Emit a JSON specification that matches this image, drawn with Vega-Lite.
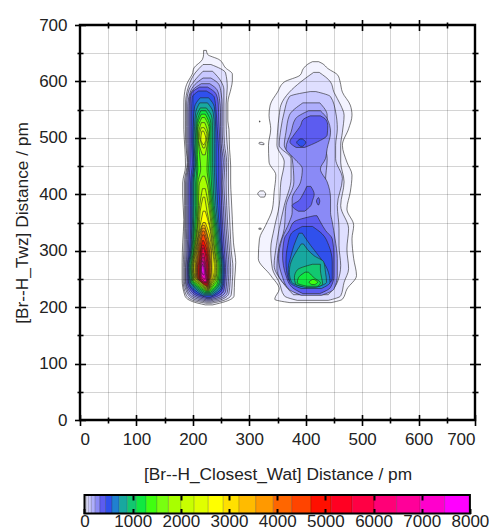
{"$schema":"https://vega.github.io/schema/vega-lite/v6.json","background":"white","padding":{"left":12,"top":14,"right":0,"bottom":6},"spacing":10,
"config":{"font":"Liberation Sans","axis":{"labelFont":"Liberation Sans","titleFont":"Liberation Sans","labelFontSize":17,"titleFontSize":17.3,"titleFontWeight":"normal","labelColor":"#222","titleColor":"#222","tickColor":"black"}},
"datasets":{"origin":[{"x":0,"y":0}],
"bar":[{"l":0,"a":0,"b":9},{"l":1,"a":9,"b":36},{"l":2,"a":36,"b":80},{"l":3,"a":80,"b":142},{"l":4,"a":142,"b":222},{"l":5,"a":222,"b":320},{"l":6,"a":320,"b":436},{"l":7,"a":436,"b":569},{"l":8,"a":569,"b":720},{"l":9,"a":720,"b":889},{"l":10,"a":889,"b":1076},{"l":11,"a":1076,"b":1280},{"l":12,"a":1280,"b":1502},{"l":13,"a":1502,"b":1742},{"l":14,"a":1742,"b":2000},{"l":15,"a":2000,"b":2276},{"l":16,"a":2276,"b":2569},{"l":17,"a":2569,"b":2880},{"l":18,"a":2880,"b":3209},{"l":19,"a":3209,"b":3556},{"l":20,"a":3556,"b":3920},{"l":21,"a":3920,"b":4302},{"l":22,"a":4302,"b":4702},{"l":23,"a":4702,"b":5120},{"l":24,"a":5120,"b":5556},{"l":25,"a":5556,"b":6009},{"l":26,"a":6009,"b":6480},{"l":27,"a":6480,"b":6969},{"l":28,"a":6969,"b":7476},{"l":29,"a":7476,"b":8000}],
"frame":[{"a":0,"b":8000}],
"contours":[
{"s":"I1","l":1,"y":492,"a":318,"b":322},{"s":"I1","l":1,"y":490,"a":317,"b":326},{"s":"I1","l":1,"y":488,"a":322,"b":326},
{"s":"I2","l":1,"y":406,"a":319,"b":325},{"s":"I2","l":1,"y":401,"a":315,"b":329},{"s":"I2","l":1,"y":395,"a":320,"b":327},
{"s":"I3","l":1,"y":306,"a":323,"b":330},{"s":"I3","l":1,"y":303,"a":321,"b":333},{"s":"I3","l":1,"y":300,"a":324,"b":331},
{"s":"I4","l":1,"y":530,"a":318,"b":319},{"s":"I4","l":1,"y":528,"a":318,"b":319},
{"s":"I5","l":1,"y":340,"a":317,"b":321},{"s":"I5","l":1,"y":338,"a":317,"b":321},
{"s":"R1","l":1,"y":635,"a":412,"b":423},{"s":"R1","l":1,"y":632,"a":406,"b":429},{"s":"R1","l":1,"y":623,"a":396,"b":439},{"s":"R1","l":1,"y":611,"a":390,"b":457},{"s":"R1","l":1,"y":599,"a":362,"b":461},{"s":"R1","l":1,"y":581,"a":350,"b":465},{"s":"R1","l":1,"y":558,"a":337,"b":479},{"s":"R1","l":1,"y":540,"a":335,"b":482},{"s":"R1","l":1,"y":516,"a":338,"b":476},{"s":"R1","l":1,"y":487,"a":334,"b":465},{"s":"R1","l":1,"y":457,"a":335,"b":473},{"s":"R1","l":1,"y":434,"a":347,"b":482},{"s":"R1","l":1,"y":404,"a":344,"b":479},{"s":"R1","l":1,"y":374,"a":341,"b":473},{"s":"R1","l":1,"y":345,"a":329,"b":485},{"s":"R1","l":1,"y":321,"a":318,"b":482},{"s":"R1","l":1,"y":286,"a":316,"b":485},{"s":"R1","l":1,"y":256,"a":338,"b":490},{"s":"R1","l":1,"y":232,"a":353,"b":473},{"s":"R1","l":1,"y":214,"a":345,"b":465},{"s":"R1","l":1,"y":208,"a":372,"b":445},
{"s":"R2","l":2,"y":616,"a":414,"b":424},{"s":"R2","l":2,"y":599,"a":391,"b":444},{"s":"R2","l":2,"y":581,"a":371,"b":450},{"s":"R2","l":2,"y":558,"a":356,"b":462},{"s":"R2","l":2,"y":540,"a":353,"b":468},{"s":"R2","l":2,"y":510,"a":350,"b":465},{"s":"R2","l":2,"y":487,"a":349,"b":462},{"s":"R2","l":2,"y":457,"a":362,"b":462},{"s":"R2","l":2,"y":422,"a":356,"b":468},{"s":"R2","l":2,"y":380,"a":353,"b":462},{"s":"R2","l":2,"y":339,"a":344,"b":476},{"s":"R2","l":2,"y":303,"a":338,"b":473},{"s":"R2","l":2,"y":268,"a":341,"b":476},{"s":"R2","l":2,"y":244,"a":353,"b":468},{"s":"R2","l":2,"y":220,"a":362,"b":462},{"s":"R2","l":2,"y":212,"a":385,"b":440},
{"s":"R3","l":3,"y":582,"a":408,"b":418},{"s":"R3","l":3,"y":573,"a":371,"b":444},{"s":"R3","l":3,"y":546,"a":362,"b":453},{"s":"R3","l":3,"y":516,"a":356,"b":456},{"s":"R3","l":3,"y":487,"a":353,"b":453},{"s":"R3","l":3,"y":463,"a":374,"b":453},{"s":"R3","l":3,"y":428,"a":374,"b":465},{"s":"R3","l":3,"y":380,"a":362,"b":456},{"s":"R3","l":3,"y":339,"a":353,"b":459},{"s":"R3","l":3,"y":309,"a":348,"b":459},{"s":"R3","l":3,"y":274,"a":344,"b":462},{"s":"R3","l":3,"y":244,"a":359,"b":456},{"s":"R3","l":3,"y":222,"a":378,"b":440},
{"s":"R4","l":4,"y":562,"a":395,"b":425},{"s":"R4","l":4,"y":540,"a":371,"b":438},{"s":"R4","l":4,"y":510,"a":365,"b":438},{"s":"R4","l":4,"y":487,"a":362,"b":435},{"s":"R4","l":4,"y":463,"a":376,"b":438},{"s":"R4","l":4,"y":422,"a":379,"b":435},{"s":"R4","l":4,"y":380,"a":365,"b":438},{"s":"R4","l":4,"y":339,"a":362,"b":441},{"s":"R4","l":4,"y":303,"a":352,"b":448},{"s":"R4","l":4,"y":268,"a":349,"b":451},{"s":"R4","l":4,"y":238,"a":365,"b":444},{"s":"R4","l":4,"y":223,"a":388,"b":425},
{"s":"R5","l":5,"y":548,"a":405,"b":426},{"s":"R5","l":5,"y":534,"a":382,"b":438},{"s":"R5","l":5,"y":510,"a":374,"b":444},{"s":"R5","l":5,"y":481,"a":365,"b":438},{"s":"R5","l":5,"y":463,"a":380,"b":435},{"s":"R5","l":5,"y":445,"a":394,"b":426},{"s":"R5","l":5,"y":422,"a":391,"b":438},{"s":"R5","l":5,"y":392,"a":376,"b":444},{"s":"R5","l":5,"y":368,"a":376,"b":444},{"s":"R5","l":5,"y":351,"a":371,"b":447},{"s":"R5","l":5,"y":321,"a":358,"b":452},{"s":"R5","l":5,"y":286,"a":352,"b":456},{"s":"R5","l":5,"y":256,"a":358,"b":456},{"s":"R5","l":5,"y":232,"a":370,"b":450},{"s":"R5","l":5,"y":221,"a":392,"b":428},
{"s":"R6a","l":6,"y":539,"a":408,"b":426},{"s":"R6a","l":6,"y":532,"a":395,"b":436},{"s":"R6a","l":6,"y":522,"a":391,"b":439},{"s":"R6a","l":6,"y":505,"a":379,"b":438},{"s":"R6a","l":6,"y":493,"a":372,"b":421},{"s":"R6a","l":6,"y":483,"a":383,"b":398},
{"s":"R7a","l":7,"y":498,"a":390,"b":394},{"s":"R7a","l":7,"y":492,"a":384,"b":400},{"s":"R7a","l":7,"y":485,"a":391,"b":395},
{"s":"R6b","l":6,"y":414,"a":402,"b":409},{"s":"R6b","l":6,"y":400,"a":395,"b":415},{"s":"R6b","l":6,"y":389,"a":388,"b":412},{"s":"R6b","l":6,"y":380,"a":376,"b":409},{"s":"R6b","l":6,"y":370,"a":387,"b":398},
{"s":"R6c","l":6,"y":394,"a":422,"b":423},{"s":"R6c","l":6,"y":388,"a":419,"b":425},{"s":"R6c","l":6,"y":381,"a":422,"b":423},
{"s":"R6d","l":6,"y":362,"a":415,"b":420},{"s":"R6d","l":6,"y":351,"a":379,"b":426},{"s":"R6d","l":6,"y":336,"a":371,"b":435},{"s":"R6d","l":6,"y":321,"a":362,"b":447},{"s":"R6d","l":6,"y":291,"a":359,"b":450},{"s":"R6d","l":6,"y":256,"a":365,"b":450},{"s":"R6d","l":6,"y":235,"a":376,"b":444},{"s":"R6d","l":6,"y":224,"a":395,"b":425},
{"s":"R7","l":7,"y":343,"a":394,"b":412},{"s":"R7","l":7,"y":330,"a":374,"b":429},{"s":"R7","l":7,"y":309,"a":368,"b":441},{"s":"R7","l":7,"y":280,"a":365,"b":447},{"s":"R7","l":7,"y":250,"a":369,"b":447},{"s":"R7","l":7,"y":235,"a":388,"b":430},
{"s":"R8","l":8,"y":331,"a":388,"b":394},{"s":"R8","l":8,"y":309,"a":379,"b":409},{"s":"R8","l":8,"y":291,"a":374,"b":423},{"s":"R8","l":8,"y":268,"a":369,"b":438},{"s":"R8","l":8,"y":244,"a":372,"b":443},{"s":"R8","l":8,"y":233,"a":392,"b":428},
{"s":"R9","l":9,"y":312,"a":392,"b":396},{"s":"R9","l":9,"y":291,"a":379,"b":415},{"s":"R9","l":9,"y":280,"a":374,"b":432},{"s":"R9","l":9,"y":262,"a":371,"b":435},{"s":"R9","l":9,"y":244,"a":375,"b":437},{"s":"R9","l":9,"y":237,"a":392,"b":424},
{"s":"R10","l":10,"y":276,"a":412,"b":426},{"s":"R10","l":10,"y":266,"a":385,"b":426},{"s":"R10","l":10,"y":253,"a":380,"b":428},{"s":"R10","l":10,"y":241,"a":382,"b":430},{"s":"R10","l":10,"y":235,"a":400,"b":418},
{"s":"R11","l":11,"y":262,"a":399,"b":405},{"s":"R11","l":11,"y":252,"a":387,"b":415},{"s":"R11","l":11,"y":243,"a":385,"b":426},{"s":"R11","l":11,"y":237,"a":402,"b":421},
{"s":"R12","l":12,"y":249,"a":412,"b":415},{"s":"R12","l":12,"y":244,"a":406,"b":421},{"s":"R12","l":12,"y":240,"a":411,"b":416},
{"s":"L1","l":1,"y":655,"a":219,"b":224},{"s":"L1","l":1,"y":648,"a":219,"b":226},{"s":"L1","l":1,"y":639,"a":217,"b":246},{"s":"L1","l":1,"y":624,"a":202,"b":258},{"s":"L1","l":1,"y":613,"a":199,"b":270},{"s":"L1","l":1,"y":601,"a":192,"b":270},{"s":"L1","l":1,"y":589,"a":187,"b":268},{"s":"L1","l":1,"y":562,"a":184,"b":262},{"s":"L1","l":1,"y":530,"a":184,"b":262},{"s":"L1","l":1,"y":515,"a":184,"b":264},{"s":"L1","l":1,"y":480,"a":186,"b":265},{"s":"L1","l":1,"y":450,"a":187,"b":267},{"s":"L1","l":1,"y":420,"a":182,"b":267},{"s":"L1","l":1,"y":397,"a":182,"b":268},{"s":"L1","l":1,"y":355,"a":184,"b":270},{"s":"L1","l":1,"y":314,"a":182,"b":272},{"s":"L1","l":1,"y":279,"a":181,"b":276},{"s":"L1","l":1,"y":249,"a":181,"b":274},{"s":"L1","l":1,"y":220,"a":186,"b":273},{"s":"L1","l":1,"y":210,"a":199,"b":258},{"s":"L1","l":1,"y":204,"a":222,"b":235},
{"s":"L2","l":2,"y":630,"a":218,"b":232},{"s":"L2","l":2,"y":615,"a":204,"b":258},{"s":"L2","l":2,"y":590,"a":192,"b":261},{"s":"L2","l":2,"y":560,"a":187,"b":259},{"s":"L2","l":2,"y":530,"a":187,"b":259},{"s":"L2","l":2,"y":500,"a":187,"b":260},{"s":"L2","l":2,"y":456,"a":190,"b":263},{"s":"L2","l":2,"y":420,"a":185,"b":263},{"s":"L2","l":2,"y":380,"a":185,"b":264},{"s":"L2","l":2,"y":340,"a":185,"b":266},{"s":"L2","l":2,"y":300,"a":184,"b":268},{"s":"L2","l":2,"y":270,"a":183,"b":271},{"s":"L2","l":2,"y":245,"a":183,"b":270},{"s":"L2","l":2,"y":222,"a":188,"b":268},{"s":"L2","l":2,"y":212,"a":200,"b":255},{"s":"L2","l":2,"y":207,"a":223,"b":233},
{"s":"L3","l":3,"y":618,"a":218,"b":235},{"s":"L3","l":3,"y":600,"a":202,"b":250},{"s":"L3","l":3,"y":585,"a":193,"b":255},{"s":"L3","l":3,"y":560,"a":189,"b":255},{"s":"L3","l":3,"y":520,"a":189,"b":255},{"s":"L3","l":3,"y":490,"a":189,"b":256},{"s":"L3","l":3,"y":456,"a":191,"b":260},{"s":"L3","l":3,"y":420,"a":187,"b":259},{"s":"L3","l":3,"y":380,"a":187,"b":260},{"s":"L3","l":3,"y":340,"a":187,"b":262},{"s":"L3","l":3,"y":300,"a":186,"b":265},{"s":"L3","l":3,"y":270,"a":185,"b":267},{"s":"L3","l":3,"y":245,"a":185,"b":266},{"s":"L3","l":3,"y":225,"a":190,"b":264},{"s":"L3","l":3,"y":214,"a":202,"b":252},{"s":"L3","l":3,"y":209,"a":224,"b":232},
{"s":"L4","l":4,"y":606,"a":218,"b":232},{"s":"L4","l":4,"y":595,"a":204,"b":246},{"s":"L4","l":4,"y":580,"a":195,"b":250},{"s":"L4","l":4,"y":555,"a":191,"b":252},{"s":"L4","l":4,"y":520,"a":191,"b":252},{"s":"L4","l":4,"y":490,"a":191,"b":253},{"s":"L4","l":4,"y":456,"a":192,"b":257},{"s":"L4","l":4,"y":420,"a":189,"b":255},{"s":"L4","l":4,"y":380,"a":189,"b":257},{"s":"L4","l":4,"y":340,"a":189,"b":259},{"s":"L4","l":4,"y":300,"a":188,"b":262},{"s":"L4","l":4,"y":270,"a":187,"b":264},{"s":"L4","l":4,"y":245,"a":187,"b":263},{"s":"L4","l":4,"y":226,"a":192,"b":261},{"s":"L4","l":4,"y":216,"a":204,"b":250},{"s":"L4","l":4,"y":211,"a":224,"b":231},
{"s":"L5","l":5,"y":596,"a":215,"b":230},{"s":"L5","l":5,"y":585,"a":200,"b":243},{"s":"L5","l":5,"y":570,"a":194,"b":247},{"s":"L5","l":5,"y":545,"a":193,"b":249},{"s":"L5","l":5,"y":520,"a":193,"b":249},{"s":"L5","l":5,"y":490,"a":193,"b":250},{"s":"L5","l":5,"y":456,"a":193,"b":254},{"s":"L5","l":5,"y":420,"a":191,"b":252},{"s":"L5","l":5,"y":380,"a":191,"b":254},{"s":"L5","l":5,"y":340,"a":191,"b":256},{"s":"L5","l":5,"y":300,"a":190,"b":259},{"s":"L5","l":5,"y":270,"a":188,"b":261},{"s":"L5","l":5,"y":245,"a":188,"b":260},{"s":"L5","l":5,"y":228,"a":194,"b":258},{"s":"L5","l":5,"y":218,"a":206,"b":248},{"s":"L5","l":5,"y":213,"a":224,"b":231},
{"s":"L6","l":6,"y":590,"a":212,"b":226},{"s":"L6","l":6,"y":578,"a":197,"b":241},{"s":"L6","l":6,"y":560,"a":195,"b":245},{"s":"L6","l":6,"y":530,"a":195,"b":246},{"s":"L6","l":6,"y":490,"a":195,"b":248},{"s":"L6","l":6,"y":456,"a":195,"b":250},{"s":"L6","l":6,"y":420,"a":193,"b":250},{"s":"L6","l":6,"y":380,"a":193,"b":251},{"s":"L6","l":6,"y":340,"a":193,"b":253},{"s":"L6","l":6,"y":300,"a":192,"b":256},{"s":"L6","l":6,"y":270,"a":190,"b":258},{"s":"L6","l":6,"y":245,"a":190,"b":257},{"s":"L6","l":6,"y":230,"a":196,"b":255},{"s":"L6","l":6,"y":220,"a":208,"b":245},{"s":"L6","l":6,"y":215,"a":225,"b":231},
{"s":"L7","l":7,"y":583,"a":210,"b":224},{"s":"L7","l":7,"y":572,"a":199,"b":238},{"s":"L7","l":7,"y":550,"a":198,"b":241},{"s":"L7","l":7,"y":520,"a":198,"b":243},{"s":"L7","l":7,"y":490,"a":198,"b":245},{"s":"L7","l":7,"y":456,"a":199,"b":246},{"s":"L7","l":7,"y":420,"a":196,"b":246},{"s":"L7","l":7,"y":380,"a":196,"b":248},{"s":"L7","l":7,"y":340,"a":196,"b":250},{"s":"L7","l":7,"y":300,"a":194,"b":253},{"s":"L7","l":7,"y":270,"a":191,"b":256},{"s":"L7","l":7,"y":245,"a":192,"b":255},{"s":"L7","l":7,"y":232,"a":198,"b":252},{"s":"L7","l":7,"y":222,"a":210,"b":242},{"s":"L7","l":7,"y":217,"a":225,"b":231},
{"s":"L8","l":8,"y":571,"a":213,"b":228},{"s":"L8","l":8,"y":555,"a":203,"b":238},{"s":"L8","l":8,"y":530,"a":201,"b":240},{"s":"L8","l":8,"y":490,"a":200,"b":241},{"s":"L8","l":8,"y":456,"a":202,"b":241},{"s":"L8","l":8,"y":420,"a":198,"b":242},{"s":"L8","l":8,"y":380,"a":198,"b":244},{"s":"L8","l":8,"y":340,"a":198,"b":247},{"s":"L8","l":8,"y":300,"a":196,"b":251},{"s":"L8","l":8,"y":270,"a":192,"b":254},{"s":"L8","l":8,"y":245,"a":193,"b":253},{"s":"L8","l":8,"y":233,"a":200,"b":250},{"s":"L8","l":8,"y":220,"a":218,"b":234},
{"s":"L9","l":9,"y":562,"a":212,"b":226},{"s":"L9","l":9,"y":545,"a":205,"b":236},{"s":"L9","l":9,"y":520,"a":203,"b":238},{"s":"L9","l":9,"y":490,"a":202,"b":238},{"s":"L9","l":9,"y":456,"a":204,"b":238},{"s":"L9","l":9,"y":420,"a":200,"b":239},{"s":"L9","l":9,"y":380,"a":200,"b":241},{"s":"L9","l":9,"y":340,"a":199,"b":245},{"s":"L9","l":9,"y":300,"a":197,"b":249},{"s":"L9","l":9,"y":270,"a":193,"b":252},{"s":"L9","l":9,"y":245,"a":195,"b":251},{"s":"L9","l":9,"y":235,"a":202,"b":248},{"s":"L9","l":9,"y":222,"a":219,"b":233},
{"s":"L10","l":10,"y":553,"a":213,"b":224},{"s":"L10","l":10,"y":535,"a":206,"b":234},{"s":"L10","l":10,"y":510,"a":205,"b":235},{"s":"L10","l":10,"y":480,"a":204,"b":235},{"s":"L10","l":10,"y":456,"a":205,"b":235},{"s":"L10","l":10,"y":420,"a":202,"b":236},{"s":"L10","l":10,"y":380,"a":202,"b":238},{"s":"L10","l":10,"y":340,"a":201,"b":243},{"s":"L10","l":10,"y":300,"a":198,"b":247},{"s":"L10","l":10,"y":270,"a":194,"b":251},{"s":"L10","l":10,"y":245,"a":196,"b":249},{"s":"L10","l":10,"y":236,"a":204,"b":245},{"s":"L10","l":10,"y":224,"a":220,"b":232},
{"s":"L11","l":11,"y":548,"a":214,"b":223},{"s":"L11","l":11,"y":525,"a":207,"b":232},{"s":"L11","l":11,"y":500,"a":206,"b":232},{"s":"L11","l":11,"y":470,"a":206,"b":232},{"s":"L11","l":11,"y":445,"a":207,"b":232},{"s":"L11","l":11,"y":420,"a":205,"b":233},{"s":"L11","l":11,"y":380,"a":205,"b":236},{"s":"L11","l":11,"y":340,"a":203,"b":241},{"s":"L11","l":11,"y":300,"a":199,"b":245},{"s":"L11","l":11,"y":270,"a":196,"b":249},{"s":"L11","l":11,"y":245,"a":198,"b":247},{"s":"L11","l":11,"y":237,"a":206,"b":243},{"s":"L11","l":11,"y":226,"a":221,"b":231},
{"s":"L12","l":12,"y":542,"a":215,"b":222},{"s":"L12","l":12,"y":520,"a":208,"b":230},{"s":"L12","l":12,"y":495,"a":208,"b":229},{"s":"L12","l":12,"y":470,"a":208,"b":229},{"s":"L12","l":12,"y":445,"a":209,"b":228},{"s":"L12","l":12,"y":420,"a":207,"b":230},{"s":"L12","l":12,"y":380,"a":207,"b":234},{"s":"L12","l":12,"y":340,"a":205,"b":239},{"s":"L12","l":12,"y":300,"a":201,"b":243},{"s":"L12","l":12,"y":270,"a":197,"b":247},{"s":"L12","l":12,"y":248,"a":199,"b":245},{"s":"L12","l":12,"y":238,"a":208,"b":241},{"s":"L12","l":12,"y":228,"a":222,"b":230},
{"s":"L13","l":13,"y":536,"a":216,"b":221},{"s":"L13","l":13,"y":515,"a":209,"b":229},{"s":"L13","l":13,"y":490,"a":210,"b":227},{"s":"L13","l":13,"y":470,"a":212,"b":226},{"s":"L13","l":13,"y":445,"a":214,"b":225},{"s":"L13","l":13,"y":420,"a":209,"b":228},{"s":"L13","l":13,"y":380,"a":209,"b":232},{"s":"L13","l":13,"y":340,"a":207,"b":237},{"s":"L13","l":13,"y":300,"a":202,"b":241},{"s":"L13","l":13,"y":270,"a":198,"b":245},{"s":"L13","l":13,"y":248,"a":200,"b":243},{"s":"L13","l":13,"y":240,"a":209,"b":238},{"s":"L13","l":13,"y":229,"a":223,"b":229},
{"s":"L14a","l":14,"y":527,"a":215,"b":221},{"s":"L14a","l":14,"y":505,"a":210,"b":227},{"s":"L14a","l":14,"y":485,"a":212,"b":225},{"s":"L14a","l":14,"y":470,"a":217,"b":222},
{"s":"L15a","l":15,"y":518,"a":215,"b":220},{"s":"L15a","l":15,"y":505,"a":212,"b":225},{"s":"L15a","l":15,"y":490,"a":215,"b":223},{"s":"L15a","l":15,"y":482,"a":218,"b":221},
{"s":"L16a","l":16,"y":512,"a":216,"b":219},{"s":"L16a","l":16,"y":498,"a":214,"b":223},{"s":"L16a","l":16,"y":488,"a":218,"b":220},
{"s":"L14","l":14,"y":432,"a":217,"b":221},{"s":"L14","l":14,"y":415,"a":211,"b":226},{"s":"L14","l":14,"y":380,"a":210,"b":230},{"s":"L14","l":14,"y":340,"a":208,"b":235},{"s":"L14","l":14,"y":300,"a":203,"b":239},{"s":"L14","l":14,"y":270,"a":199,"b":243},{"s":"L14","l":14,"y":250,"a":201,"b":241},{"s":"L14","l":14,"y":241,"a":211,"b":236},{"s":"L14","l":14,"y":230,"a":224,"b":228},
{"s":"L15","l":15,"y":410,"a":217,"b":222},{"s":"L15","l":15,"y":380,"a":212,"b":228},{"s":"L15","l":15,"y":340,"a":209,"b":233},{"s":"L15","l":15,"y":300,"a":204,"b":238},{"s":"L15","l":15,"y":270,"a":200,"b":242},{"s":"L15","l":15,"y":250,"a":202,"b":239},{"s":"L15","l":15,"y":242,"a":212,"b":234},{"s":"L15","l":15,"y":231,"a":225,"b":228},
{"s":"L16","l":16,"y":395,"a":218,"b":221},{"s":"L16","l":16,"y":370,"a":213,"b":225},{"s":"L16","l":16,"y":340,"a":211,"b":231},{"s":"L16","l":16,"y":300,"a":205,"b":236},{"s":"L16","l":16,"y":270,"a":201,"b":240},{"s":"L16","l":16,"y":252,"a":203,"b":238},{"s":"L16","l":16,"y":243,"a":213,"b":233},{"s":"L16","l":16,"y":232,"a":225,"b":228},
{"s":"L17","l":17,"y":370,"a":218,"b":222},{"s":"L17","l":17,"y":345,"a":213,"b":229},{"s":"L17","l":17,"y":300,"a":206,"b":235},{"s":"L17","l":17,"y":270,"a":202,"b":238},{"s":"L17","l":17,"y":252,"a":204,"b":236},{"s":"L17","l":17,"y":244,"a":214,"b":232},{"s":"L17","l":17,"y":233,"a":225,"b":228},
{"s":"L18","l":18,"y":350,"a":218,"b":222},{"s":"L18","l":18,"y":330,"a":211,"b":229},{"s":"L18","l":18,"y":300,"a":207,"b":233},{"s":"L18","l":18,"y":270,"a":204,"b":234},{"s":"L18","l":18,"y":252,"a":205,"b":234},{"s":"L18","l":18,"y":245,"a":215,"b":231},{"s":"L18","l":18,"y":234,"a":225,"b":228},
{"s":"L19","l":19,"y":345,"a":217,"b":221},{"s":"L19","l":19,"y":320,"a":210,"b":228},{"s":"L19","l":19,"y":300,"a":208,"b":232},{"s":"L19","l":19,"y":270,"a":205,"b":233},{"s":"L19","l":19,"y":252,"a":206,"b":232},{"s":"L19","l":19,"y":246,"a":216,"b":230},{"s":"L19","l":19,"y":235,"a":225,"b":228},
{"s":"L20","l":20,"y":340,"a":217,"b":221},{"s":"L20","l":20,"y":320,"a":211,"b":227},{"s":"L20","l":20,"y":295,"a":209,"b":230},{"s":"L20","l":20,"y":270,"a":206,"b":232},{"s":"L20","l":20,"y":252,"a":207,"b":231},{"s":"L20","l":20,"y":247,"a":217,"b":229},{"s":"L20","l":20,"y":236,"a":225,"b":228},
{"s":"L21","l":21,"y":335,"a":217,"b":220},{"s":"L21","l":21,"y":315,"a":212,"b":226},{"s":"L21","l":21,"y":295,"a":210,"b":229},{"s":"L21","l":21,"y":270,"a":207,"b":230},{"s":"L21","l":21,"y":252,"a":208,"b":230},{"s":"L21","l":21,"y":248,"a":218,"b":228},{"s":"L21","l":21,"y":237,"a":225,"b":227},
{"s":"L22","l":22,"y":328,"a":217,"b":220},{"s":"L22","l":22,"y":310,"a":213,"b":225},{"s":"L22","l":22,"y":290,"a":211,"b":228},{"s":"L22","l":22,"y":270,"a":208,"b":229},{"s":"L22","l":22,"y":252,"a":209,"b":229},{"s":"L22","l":22,"y":238,"a":224,"b":227},
{"s":"L23","l":23,"y":318,"a":217,"b":219},{"s":"L23","l":23,"y":305,"a":214,"b":224},{"s":"L23","l":23,"y":285,"a":212,"b":227},{"s":"L23","l":23,"y":270,"a":209,"b":228},{"s":"L23","l":23,"y":252,"a":210,"b":228},{"s":"L23","l":23,"y":239,"a":221,"b":226},
{"s":"L24","l":24,"y":310,"a":216,"b":219},{"s":"L24","l":24,"y":290,"a":213,"b":225},{"s":"L24","l":24,"y":270,"a":211,"b":227},{"s":"L24","l":24,"y":250,"a":212,"b":227},{"s":"L24","l":24,"y":241,"a":221,"b":225},
{"s":"L25","l":25,"y":305,"a":217,"b":219},{"s":"L25","l":25,"y":285,"a":214,"b":224},{"s":"L25","l":25,"y":270,"a":212,"b":225},{"s":"L25","l":25,"y":250,"a":213,"b":226},{"s":"L25","l":25,"y":243,"a":221,"b":224},
{"s":"L26","l":26,"y":295,"a":217,"b":219},{"s":"L26","l":26,"y":275,"a":214,"b":223},{"s":"L26","l":26,"y":260,"a":213,"b":224},{"s":"L26","l":26,"y":248,"a":215,"b":225},{"s":"L26","l":26,"y":244,"a":221,"b":224},
{"s":"L27","l":27,"y":288,"a":217,"b":219},{"s":"L27","l":27,"y":270,"a":214,"b":222},{"s":"L27","l":27,"y":258,"a":214,"b":223},{"s":"L27","l":27,"y":248,"a":218,"b":224},{"s":"L27","l":27,"y":245,"a":221,"b":223},
{"s":"L28","l":28,"y":282,"a":217,"b":218},{"s":"L28","l":28,"y":270,"a":215,"b":221},{"s":"L28","l":28,"y":258,"a":215,"b":222},{"s":"L28","l":28,"y":250,"a":220,"b":222},
{"s":"L29","l":29,"y":276,"a":217,"b":218},{"s":"L29","l":29,"y":265,"a":215.5,"b":220},{"s":"L29","l":29,"y":257,"a":218,"b":220}
]},
"vconcat":[
{"width":395,"height":395,"view":{"stroke":"black","strokeWidth":2.4},
"resolve":{"axis":{"x":"independent","y":"independent"}},
"layer":[
{"data":{"name":"contours"},"mark":{"type":"area","orient":"horizontal","interpolate":"monotone","stroke":"#222","strokeWidth":0.6,"opacity":1},
"encoding":{"detail":{"field":"s"},"y":{"field":"y","type":"quantitative","scale":{"domain":[0,700],"nice":false},"title":"[Br--H_Twz] Distance / pm","axis":{"orient":"left","values":[0,100,200,300,400,500,600,700],"offset":-5.5,"tickSize":11,"tickWidth":1.6,"domain":false,"grid":false,"zindex":1,"labelPadding":7.5,"titlePadding":7}},"x":{"field":"a","type":"quantitative","scale":{"domain":[0,700],"nice":false},"title":"[Br--H_Closest_Wat] Distance / pm","axis":{"orient":"bottom","values":[0,100,200,300,400,500,600,700],"offset":-5.5,"tickSize":11,"tickWidth":1.6,"domain":false,"grid":false,"zindex":1,"labelPadding":6,"titlePadding":18}},"x2":{"field":"b"},"color":{"field":"l","type":"ordinal","legend":null,"scale":{"domain":[0,1,2,3,4,5,6,7,8,9,10,11,12,13,14,15,16,17,18,19,20,21,22,23,24,25,26,27,28,29],"range":["#ffffff","#f3f3ff","#dfdfff","#c8c8ff","#aeaefc","#8a8af6","#5c5cf0","#3050ec","#2080d0","#18a8a0","#12c870","#10e840","#40ff10","#78ff10","#a8ff00","#c8ff00","#e0ff00","#ffff00","#ffe000","#ffbb00","#ff9900","#ff6600","#ff4400","#ff0f00","#ff0022","#ff0044","#ff0077","#ff0099","#ff00cc","#ff00ff"]}}}},
{"data":{"name":"origin"},"mark":{"type":"point","opacity":0},"encoding":{"x":{"field":"x","type":"quantitative","scale":{"domain":[0,700],"nice":false},"axis":{"orient":"bottom","values":[50,100,150,200,250,300,350,400,450,500,550,600,650],"grid":true,"gridColor":"#000","gridOpacity":0.17,"gridWidth":1,"ticks":false,"labels":false,"domain":false,"title":null,"zindex":1}},"y":{"field":"y","type":"quantitative","scale":{"domain":[0,700],"nice":false},"axis":{"orient":"left","values":[50,100,150,200,250,300,350,400,450,500,550,600,650],"grid":true,"gridColor":"#000","gridOpacity":0.17,"gridWidth":1,"ticks":false,"labels":false,"domain":false,"title":null,"zindex":1}}}},
{"data":{"name":"origin"},"mark":{"type":"point","opacity":0},"encoding":{"x":{"field":"x","type":"quantitative","scale":{"domain":[0,700],"nice":false},"axis":{"orient":"bottom","values":[50,150,250,350,450,550,650],"offset":-3,"tickSize":6,"tickWidth":1.6,"grid":false,"labels":false,"domain":false,"title":null,"zindex":1}},"y":{"field":"y","type":"quantitative","scale":{"domain":[0,700],"nice":false},"axis":{"orient":"left","values":[50,150,250,350,450,550,650],"offset":-3,"tickSize":6,"tickWidth":1.6,"grid":false,"labels":false,"domain":false,"title":null,"zindex":1}}}},
{"data":{"name":"origin"},"mark":{"type":"point","opacity":0},"encoding":{"x":{"field":"x","type":"quantitative","scale":{"domain":[0,700],"nice":false},"axis":{"orient":"top","values":[100,200,300,400,500,600],"offset":-5.5,"tickSize":11,"tickWidth":1.6,"grid":false,"labels":false,"domain":false,"title":null,"zindex":1}},"y":{"field":"y","type":"quantitative","scale":{"domain":[0,700],"nice":false},"axis":{"orient":"right","values":[100,200,300,400,500,600],"offset":-5.5,"tickSize":11,"tickWidth":1.6,"grid":false,"labels":false,"domain":false,"title":null,"zindex":1}}}},
{"data":{"name":"origin"},"mark":{"type":"point","opacity":0},"encoding":{"x":{"field":"x","type":"quantitative","scale":{"domain":[0,700],"nice":false},"axis":{"orient":"top","values":[50,150,250,350,450,550,650],"offset":-3,"tickSize":6,"tickWidth":1.6,"grid":false,"labels":false,"domain":false,"title":null,"zindex":1}},"y":{"field":"y","type":"quantitative","scale":{"domain":[0,700],"nice":false},"axis":{"orient":"right","values":[50,150,250,350,450,550,650],"offset":-3,"tickSize":6,"tickWidth":1.6,"grid":false,"labels":false,"domain":false,"title":null,"zindex":1}}}}
]},
{"width":395,"height":18.5,"view":{"stroke":null},
"resolve":{"axis":{"x":"independent"}},
"layer":[
{"data":{"name":"bar"},"mark":{"type":"rect","stroke":"#000","strokeOpacity":0.22,"strokeWidth":0.8},"encoding":{"y":{"datum":0,"type":"quantitative","scale":{"domain":[0,1]},"axis":null},"y2":{"datum":1},"x":{"field":"a","type":"quantitative","scale":{"domain":[-93.4,8106],"nice":false,"zero":false},"title":null,"axis":{"orient":"bottom","values":[0,1000,2000,3000,4000,5000,6000,7000,8000],"format":"d","tickSize":-5,"tickWidth":2,"domain":false,"grid":false,"zindex":1,"labelPadding":5}},"x2":{"field":"b"},"color":{"field":"l","type":"ordinal","legend":null,"scale":{"domain":[0,1,2,3,4,5,6,7,8,9,10,11,12,13,14,15,16,17,18,19,20,21,22,23,24,25,26,27,28,29],"range":["#ffffff","#f3f3ff","#dfdfff","#c8c8ff","#aeaefc","#8a8af6","#5c5cf0","#3050ec","#2080d0","#18a8a0","#12c870","#10e840","#40ff10","#78ff10","#a8ff00","#c8ff00","#e0ff00","#ffff00","#ffe000","#ffbb00","#ff9900","#ff6600","#ff4400","#ff0f00","#ff0022","#ff0044","#ff0077","#ff0099","#ff00cc","#ff00ff"]}}}},
{"data":{"name":"frame"},"mark":{"type":"rect","fillOpacity":0,"stroke":"black","strokeWidth":2},"encoding":{"y":{"datum":0,"type":"quantitative","scale":{"domain":[0,1]},"axis":null},"y2":{"datum":1},"x":{"field":"a","type":"quantitative","scale":{"domain":[-93.4,8106],"nice":false,"zero":false},"title":null,"axis":{"orient":"top","values":[1000,2000,3000,4000,5000,6000,7000],"tickSize":-5,"tickWidth":2,"domain":false,"grid":false,"labels":false,"zindex":1}},"x2":{"field":"b"}}}
]}
]}
